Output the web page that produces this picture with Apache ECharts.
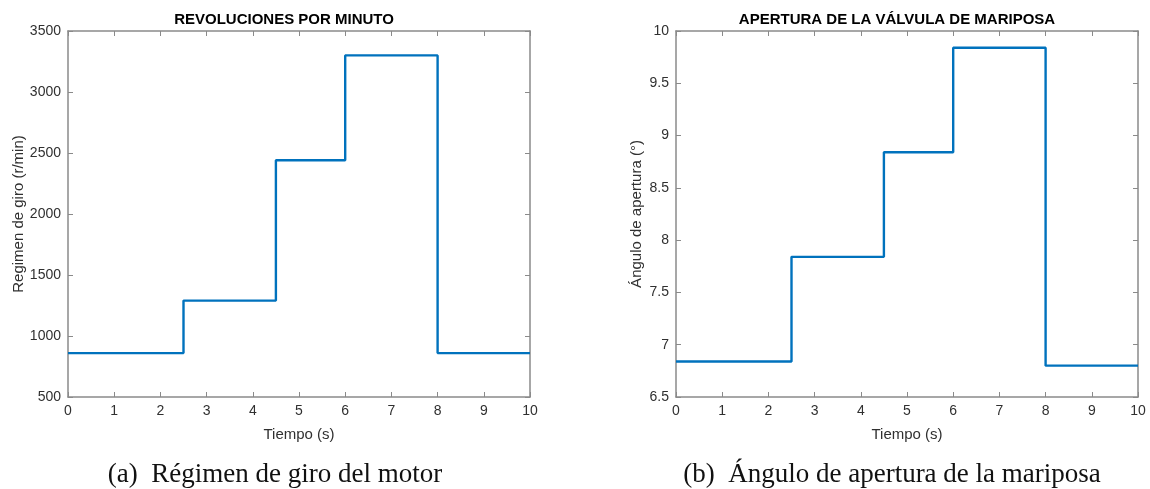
<!DOCTYPE html>
<html>
<head>
<meta charset="utf-8">
<script src="https://cdn.jsdelivr.net/npm/echarts@6/dist/echarts.min.js"></script>
<style>
html,body{margin:0;padding:0;background:#fff}
#chart{width:1150px;height:489px}
</style>
</head>
<body>
<div id="chart"></div>
<script>
// tiempos de los escalones (s)
let times = [0, 2.5, 4.5, 6, 8, 10]
// regimen de giro (r/min)
let rpm = [860, 1290, 2440, 3300, 860, 860]
// angulo de apertura (grados)
let angle = [6.84, 7.84, 8.84, 9.84, 6.80, 6.80]

let chart = echarts.init(document.getElementById("chart"))

let axisCol = "#8a8a8a"
let txtCol = "#303030"
let sans = "Liberation Sans"

function xAx(grid, pos){
    let top = pos == "top"
    return {
        type:"value", gridIndex:grid, position:pos, min:0, max:10, interval:1,
        name: top ? "" : "Tiempo (s)", nameLocation:"middle", nameGap:30,
        nameTextStyle:{fontFamily:sans, fontSize:15, color:txtCol},
        axisLine:{show:true, onZero:false, lineStyle:{color:axisCol, width:1.5}},
        axisTick:{show:true, inside:true, length:5, lineStyle:{color:axisCol}},
        axisLabel:{show:!top, fontFamily:sans, fontSize:14, color:txtCol, margin:7},
        splitLine:{show:false}
    }
}
function yAx(grid, pos, min, max, step, name){
    let right = pos == "right"
    return {
        type:"value", gridIndex:grid, position:pos, min:min, max:max, interval:step,
        name: right ? "" : name, nameLocation:"middle", nameGap: grid == 0 ? 42 : 32,
        nameTextStyle:{fontFamily:sans, fontSize:15, color:txtCol},
        axisLine:{show:true, onZero:false, lineStyle:{color:axisCol, width:1.5}},
        axisTick:{show:true, inside:true, length:5, lineStyle:{color:axisCol}},
        axisLabel:{show:!right, fontFamily:sans, fontSize:14, color:txtCol, margin:7,
                   formatter:v=>String(v)},
        splitLine:{show:false}
    }
}

let option = {
    animation:false,
    title:[
        {text:"REVOLUCIONES POR MINUTO", left:279, top:7, textAlign:"center",
         textStyle:{fontFamily:sans, fontSize:15, fontWeight:"bold", color:"#000"}},
        {text:"APERTURA DE LA VÁLVULA DE MARIPOSA", left:892, top:7, textAlign:"center",
         textStyle:{fontFamily:sans, fontSize:15, fontWeight:"bold", color:"#000"}},
        {text:"(a)  Régimen de giro del motor", left:270, top:456, textAlign:"center",
         textStyle:{fontFamily:"Liberation Serif", fontSize:27, fontWeight:"normal", color:"#111"}},
        {text:"(b)  Ángulo de apertura de la mariposa", left:887, top:456, textAlign:"center",
         textStyle:{fontFamily:"Liberation Serif", fontSize:27, fontWeight:"normal", color:"#111"}}
    ],
    grid:[
        {left:68, top:31, width:462, height:366},
        {left:676, top:31, width:462, height:366}
    ],
    xAxis:[xAx(0,"bottom"), xAx(0,"top"), xAx(1,"bottom"), xAx(1,"top")],
    yAxis:[
        yAx(0,"left",500,3500,500,"Regimen de giro (r/min)"),
        yAx(0,"right",500,3500,500,""),
        yAx(1,"left",6.5,10,0.5,"Ángulo de apertura (°)"),
        yAx(1,"right",6.5,10,0.5,"")
    ],
    series:[
        {type:"line", step:"end", xAxisIndex:0, yAxisIndex:0, symbol:"none",
         lineStyle:{color:"#0072BD", width:2.4},
         data:times.map((t,i)=>[t,rpm[i]])},
        {type:"line", step:"end", xAxisIndex:2, yAxisIndex:2, symbol:"none",
         lineStyle:{color:"#0072BD", width:2.4},
         data:times.map((t,i)=>[t,angle[i]])}
    ]
}
chart.setOption(option)
</script>
</body>
</html>
